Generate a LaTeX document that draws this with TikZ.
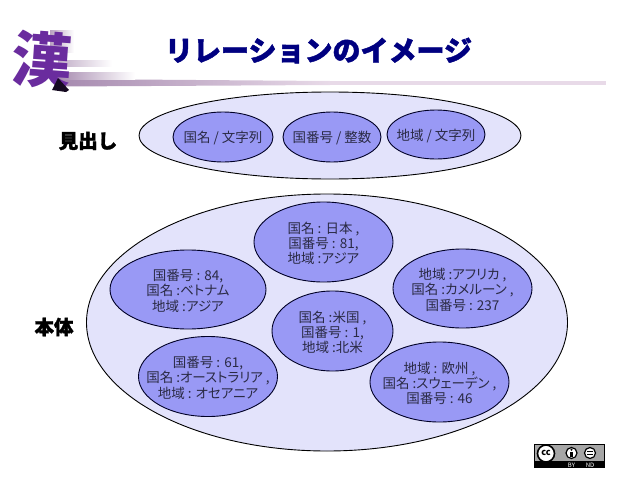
\documentclass[tikz,border=0pt]{standalone}
\usepackage{fontspec}
\setmainfont{Noto Sans CJK JP}[RawFeature=+palt]
\newfontfamily\heavyfont{Noto Sans CJK JP}[BoldFeatures={FakeBold=1.6}]
\usetikzlibrary{shapes.geometric}
\definecolor{outerfill}{HTML}{E3E3FB}
\definecolor{innerfill}{HTML}{9999F5}
\definecolor{titleblue}{HTML}{000080}
\definecolor{txt}{HTML}{2A2A44}
\definecolor{logopurple}{HTML}{6A2C9E}
\definecolor{streak}{HTML}{A78BB0}
\definecolor{linepale}{HTML}{E8DAE8}
\tikzset{
  x=1pt,y=-1pt,
  outer/.style={ellipse,draw=black,line width=0.9pt,fill=outerfill,inner sep=0pt},
  inner/.style={ellipse,draw=black!85!blue,line width=0.9pt,fill=innerfill,inner sep=0pt},
  lbl/.style={align=center,text=txt,font=\fontsize{13.5}{15.3}\selectfont,inner sep=0pt,yshift=-1.2pt},
  head/.style={font=\heavyfont\fontsize{19.5}{22}\bfseries\selectfont,text=black,inner sep=0pt},
}
\begin{document}
\begin{tikzpicture}
\useasboundingbox (0,0) rectangle (638,479);
% rule and streaks
\shade[left color=streak,right color=linepale,draw=none] (62,79) -- (330,81) -- (330,85) -- (62,86.5) -- cycle;
\fill[linepale] (330,81) rectangle (605.5,85);
\shade[left color=streak,right color=white,draw=none] (58,72) rectangle (135,79);
\shade[left color=streak!70,right color=white,draw=none] (58,60) rectangle (112,66);
\shade[left color=streak!80,right color=white,draw=none] (50,30) rectangle (74,52);
% logo
\node[inner sep=0pt,text=logopurple,font=\fontsize{60}{60}\bfseries\selectfont,rotate=-4] (logo) at (42,60) {漢};
\fill[black!80!logopurple] (52,90) -- (58,78) -- (69,90) -- (66,92) -- cycle;
% title
\node[inner sep=0pt,text=titleblue,font=\heavyfont\fontsize{28}{30}\bfseries\selectfont] (title) at (318.5,50.5) {リレーションのイメージ};
% heading group
\node[outer,minimum width=382,minimum height=87] (hgroup) at (330,135.5) {};
\node[inner,minimum width=100,minimum height=50] (h1) at (223,137) {};
\node[inner,minimum width=98,minimum height=50] (h2) at (332,137) {};
\node[inner,minimum width=98,minimum height=49] (h3) at (436,134.5) {};
\node[lbl] (th1) at (h1) {国名 / 文字列};
\node[lbl] (th2) at (h2) {国番号 / 整数};
\node[lbl] (th3) at (h3) {地域 / 文字列};
\node[head] (lh) at (88,141) {見出し};
% body group
\node[outer,minimum width=481,minimum height=257] (bgroup) at (327,322.5) {};
\node[inner,minimum width=139,minimum height=80] (b1) at (323.5,242) {};
\node[inner,minimum width=156,minimum height=79] (b2) at (188,289.5) {};
\node[inner,minimum width=121,minimum height=80] (b3) at (332.5,331) {};
\node[inner,minimum width=139,minimum height=79] (b4) at (462.5,288.5) {};
\node[inner,minimum width=139,minimum height=80] (b5) at (208,376.5) {};
\node[inner,minimum width=139,minimum height=80] (b6) at (439.5,382) {};
\node[lbl] (tb1) at (b1) {国名 : 日本 ,\\国番号 : 81,\\地域 :アジア};
\node[lbl] (tb2) at (b2) {国番号 : 84,\\国名 :ベトナム\\地域 :アジア};
\node[lbl] (tb3) at (b3) {国名 :米国 ,\\国番号 : 1,\\地域 :北米};
\node[lbl] (tb4) at (b4) {地域 :アフリカ ,\\国名 :カメルーン ,\\国番号 : 237};
\node[lbl] (tb5) at (b5) {国番号 : 61,\\国名 :オーストラリア ,\\地域 : オセアニア};
\node[lbl] (tb6) at (b6) {地域 : 欧州 ,\\国名 :スウェーデン ,\\国番号 : 46};
\node[head] (lb) at (54,327) {本体};
% licence badge
\fill[black] (534,444) rectangle (604.5,468);
\fill[black!35] (534.6,444.6) rectangle (604,461);
\fill[white,draw=black,line width=1.6pt] (546,453.5) circle (8.5);
\node[inner sep=0pt,font=\fontsize{9}{9}\bfseries\selectfont] (cc) at (546,453) {cc};
\fill[white,draw=black,line width=1.2pt] (571.5,453) circle (5.5);
\fill[black] (571.5,449.8) circle (1.1);
\fill[black] (570.2,451.6) rectangle (572.8,457);
\fill[white,draw=black,line width=1.2pt] (590,453) circle (5.5);
\fill[black] (587.2,451) rectangle (592.8,452.4);
\fill[black] (587.2,453.8) rectangle (592.8,455.2);
\node[inner sep=0pt,text=white,font=\fontsize{6}{6}\selectfont] (by) at (571.5,465) {BY};
\node[inner sep=0pt,text=white,font=\fontsize{6}{6}\selectfont] (nd) at (590,465) {ND};
\end{tikzpicture}
\end{document}
